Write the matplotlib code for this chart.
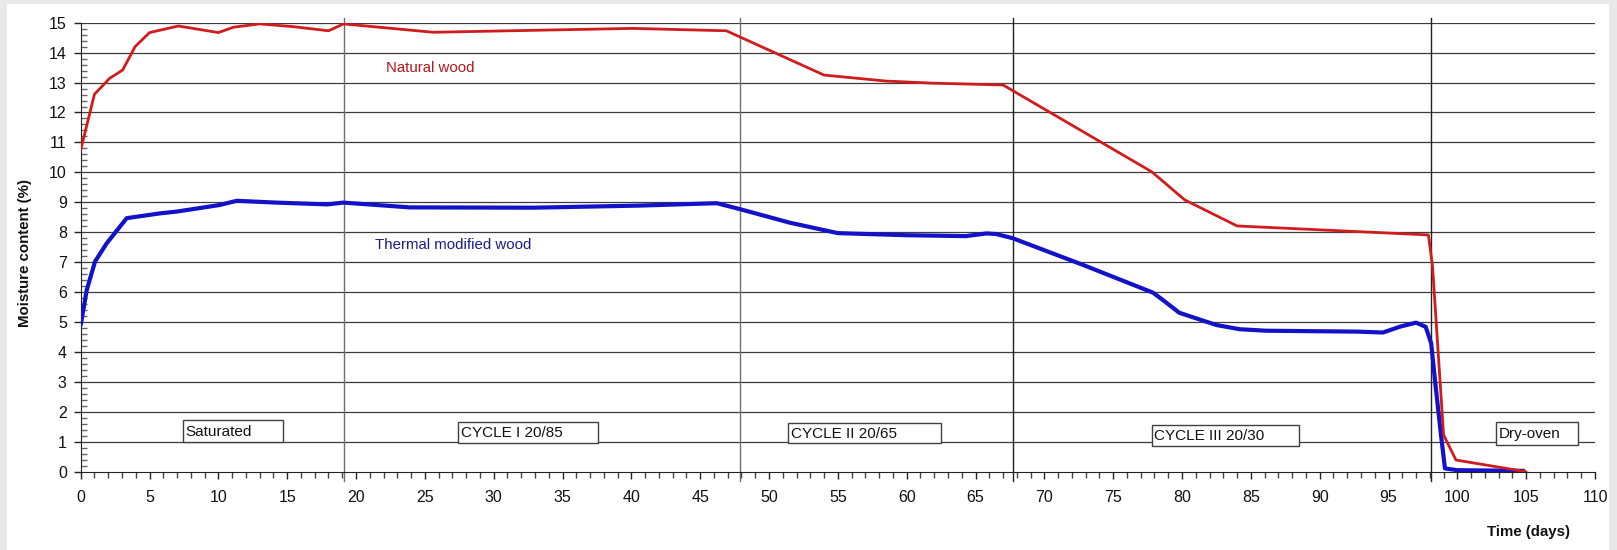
import matplotlib
matplotlib.use("Agg")
import matplotlib.pyplot as plt
from matplotlib.patches import Rectangle
from matplotlib.ticker import MultipleLocator

# ---- data ----
red_days = [0, 1.0, 2.1, 3.05, 3.95, 5.0, 7.1, 10.0, 11.1, 13.0, 15.4, 18.0, 19.1,
            25.6, 40.1, 46.9, 54.0, 58.5, 61.9, 67.0, 77.8, 80.2, 84.0, 97.9,
            98.2, 99.0, 99.9, 105.0]
red_vals = [10.75, 12.61, 13.14, 13.42, 14.2, 14.67, 14.89, 14.67, 14.85, 14.96, 14.87,
            14.73, 14.96, 14.68, 14.81, 14.73, 13.25, 13.05, 12.98, 12.92, 10.02, 9.08,
            8.21, 7.91, 6.85, 1.23, 0.39, 0.0]

blue_days = [0, 0.44, 1.04, 1.89, 3.34, 5.76, 6.97, 10.1, 11.33, 14.2, 17.9, 19.07,
             23.9, 32.9, 40.6, 46.2, 47.9, 51.5, 55.0, 60.0, 64.3, 65.8, 66.5, 67.7,
             72.8, 77.9, 78.6, 79.8, 82.5, 84.2, 86.1, 92.7, 94.6, 95.8, 97.0, 97.7,
             98.1, 98.4, 98.8, 99.1, 100.0, 104.8]
blue_vals = [4.9, 6.07, 7.02, 7.63, 8.47, 8.63, 8.69, 8.91, 9.05, 8.99, 8.93, 8.99,
             8.83, 8.82, 8.89, 8.97, 8.77, 8.32, 7.97, 7.9, 7.87, 7.96, 7.94, 7.80,
             6.91, 5.98, 5.74, 5.31, 4.9, 4.76, 4.71, 4.68, 4.65, 4.84, 4.98, 4.84,
             4.29, 2.95, 1.28, 0.11, 0.05, 0.03]

phase_bounds = [19.1, 47.9, 67.7, 98.1]
phase_labels = ["Saturated", "CYCLE I 20/85", "CYCLE II 20/65", "CYCLE III 20/30", "Dry-oven"]
series_names = ["Natural wood", "Thermal modified wood"]
x_ticks = list(range(0, 111, 5))
y_ticks = list(range(0, 16))

plt.rcParams["font.family"] = ["Liberation Sans", "DejaVu Sans"]
FS_TICK = 11.5
FS_BOX = 11.0
FS_SER = 10.8
FS_AX = 10.8

fig = plt.figure(figsize=(16.17, 5.5), dpi=100)
fig.patch.set_facecolor("white")
for (x0, y0, w, h) in [(0, 0, 7 / 1617, 1), (0, 1 - 4 / 550, 1, 4 / 550),
                       (1 - 8 / 1617, 0, 8 / 1617, 1)]:
    fig.add_artist(Rectangle((x0, y0), w, h, transform=fig.transFigure,
                             facecolor="#e9e9e9", edgecolor="none", zorder=0))

ax = fig.add_axes([80.7 / 1617, 78.3 / 550, (1595 - 80.7) / 1617, 449 / 550])
ax.set_xlim(0, 110)
ax.set_ylim(0, 15)

for yv in y_ticks[1:]:
    ax.axhline(yv, color="#3c3c3c", lw=0.9, zorder=1)

div_colors = ["#707070", "#707070", "#202020", "#202020"]
for xb, c in zip(phase_bounds, div_colors):
    ax.plot([xb, xb], [-0.3, 15.15], color=c, lw=1.0, zorder=1, clip_on=False)

ax.plot(blue_days, blue_vals, color="#1212c8", lw=3.0, zorder=3,
        solid_joinstyle="round", solid_capstyle="round")
ax.plot(red_days, red_vals, color="#d01c1c", lw=2.0, zorder=4,
        solid_joinstyle="round", solid_capstyle="round")

ax.text(22.2, 13.48, series_names[0], color="#b3181c", fontsize=FS_SER,
        ha="left", va="center", zorder=5)
ax.text(21.4, 7.57, series_names[1], color="#1c1c8a", fontsize=FS_SER,
        ha="left", va="center", zorder=5)

boxes = [(7.4, 0.98, 14.7, 1.73), (27.4, 0.95, 37.6, 1.67), (51.4, 0.95, 62.5, 1.62),
         (77.8, 0.87, 88.5, 1.56), (102.8, 0.89, 108.8, 1.67)]
for (x0, y0, x1, y1), lab in zip(boxes, phase_labels):
    ax.add_patch(Rectangle((x0, y0), x1 - x0, y1 - y0, facecolor="white",
                           edgecolor="#404040", lw=1.0, zorder=5))
    ax.text(x0 + 0.2, (y0 + y1) / 2 - 0.02, lab, fontsize=FS_BOX, color="#111111",
            ha="left", va="center", zorder=6)

for s in ["top", "right"]:
    ax.spines[s].set_visible(False)
ax.spines["left"].set_color("#222222")
ax.spines["bottom"].set_color("#222222")
ax.set_xticks(x_ticks)
ax.set_yticks(y_ticks)
ax.xaxis.set_minor_locator(MultipleLocator(1))
ax.yaxis.set_minor_locator(MultipleLocator(0.2))
ax.tick_params(axis="x", which="major", direction="out", length=5, width=1,
               color="#222222", labelsize=FS_TICK, pad=8, labelcolor="#111111")
ax.tick_params(axis="x", which="minor", direction="out", length=4, width=1,
               color="#444444")
ax.tick_params(axis="y", which="major", direction="out", length=5, width=1,
               color="#222222", labelsize=FS_TICK, pad=5, labelcolor="#111111")
ax.tick_params(axis="y", which="minor", direction="in", length=4, width=1,
               color="#666666")

fig.text(25 / 1617, 0.54, "Moisture content (%)", rotation=90, fontsize=FS_AX,
         fontweight="bold", ha="center", va="center", color="#111111")
fig.text(1570 / 1617, 0.0333, "Time (days)", fontsize=FS_AX, fontweight="bold",
         ha="right", va="center", color="#111111")

fig.savefig("out.png", dpi=100, facecolor=fig.get_facecolor())
